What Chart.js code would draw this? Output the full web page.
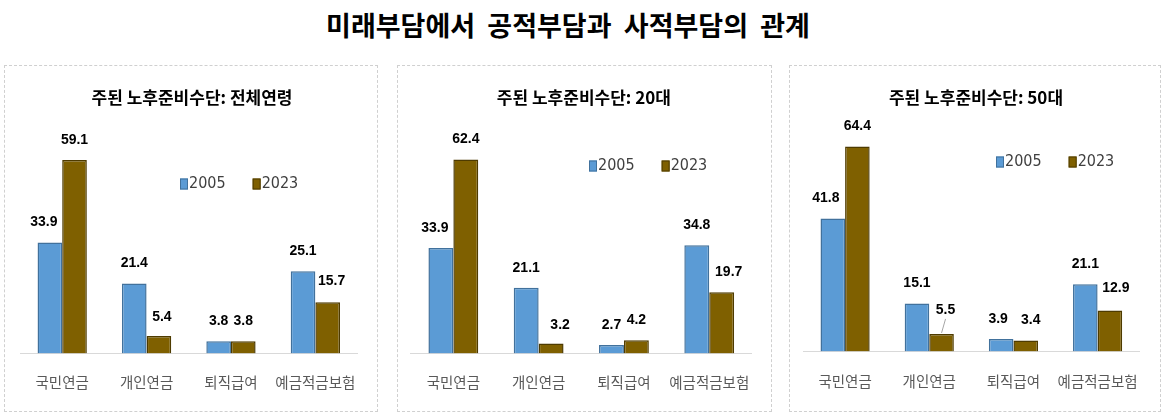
<!DOCTYPE html>
<html>
<head>
<meta charset="utf-8">
<script src="https://cdn.jsdelivr.net/npm/chart.js@4.4.0/dist/chart.umd.min.js"></script>
<style>
body { margin:0; background:#fff; width:1166px; height:415px; position:relative; overflow:hidden; }
#mainTitle { position:absolute; left:0; width:1136px; top:9px; line-height:32px; text-align:center;
  font-family:"Noto Sans CJK KR", sans-serif; font-weight:bold; font-size:27px; color:#000; }
.panel { position:absolute; top:65px; height:347px; border:1px dashed #d0d0d0; box-sizing:border-box; }
.panel div { position:absolute; left:0; top:0; right:0; bottom:0; }
</style>
</head>
<body>
<div id="mainTitle">미래부담에서&nbsp; 공적부담과&nbsp; 사적부담의&nbsp; 관계</div>
<div class="panel" style="left:4px; width:374px;"><div><canvas id="chartAll"></canvas></div></div>
<div class="panel" style="left:397px; width:375px;"><div><canvas id="chart20"></canvas></div></div>
<div class="panel" style="left:789px; width:372px;"><div><canvas id="chart50"></canvas></div></div>
<script>
const categories = ['국민연금', '개인연금', '퇴직급여', '예금적금보험'];
const years = ['2005', '2023'];

const allAges2005 = [33.9, 21.4, 3.8, 25.1];
const allAges2023 = [59.1, 5.4, 3.8, 15.7];
const twenties2005 = [33.9, 21.1, 2.7, 34.8];
const twenties2023 = [62.4, 3.2, 4.2, 19.7];
const fifties2005 = [41.8, 15.1, 3.9, 21.1];
const fifties2023 = [64.4, 5.5, 3.4, 12.9];

const panelTitles = ['주된 노후준비수단: 전체연령', '주된 노후준비수단: 20대', '주된 노후준비수단: 50대'];

// value labels above each bar
const valueLabels = {
    id: 'valueLabels',
    afterDatasetsDraw(chart, args, opts) {
        const ctx = chart.ctx;
        const shifts = opts.shifts || [];
        ctx.save();
        ctx.font = 'bold 14px "Liberation Sans", Arial, sans-serif';
        ctx.fillStyle = '#000';
        ctx.textAlign = 'center';
        ctx.textBaseline = 'middle';
        chart.data.datasets.forEach(function(ds, i){
            chart.getDatasetMeta(i).data.forEach(function(bar, j){
                let dx = 0, dy = -20, leader = false;
                shifts.forEach(function(s){
                    if(s.ds == i && s.idx == j){ dx = s.dx; dy = s.dy; leader = !!s.leader; }
                });
                if(leader){
                    ctx.strokeStyle = '#a6a6a6';
                    ctx.lineWidth = 1;
                    ctx.beginPath();
                    ctx.moveTo(bar.x, bar.y - 1);
                    ctx.lineTo(bar.x + dx, bar.y + dy + 9);
                    ctx.stroke();
                }
                ctx.fillText(ds.data[j].toFixed(1), bar.x + dx, bar.y + dy);
            });
        });
        ctx.restore();
    }
};

// legend drawn inside the plot
const insideLegend = {
    id: 'insideLegend',
    afterDraw(chart, args, opts) {
        const ctx = chart.ctx;
        let x = opts.x;
        const y = opts.y;
        ctx.save();
        ctx.font = '16px "Liberation Sans Narrow", "DejaVu Sans Condensed", sans-serif';
        ctx.textBaseline = 'middle';
        ctx.textAlign = 'left';
        chart.data.datasets.forEach(function(ds){
            ctx.fillStyle = ds.backgroundColor;
            ctx.fillRect(x, y - 5.5, 8, 11);
            ctx.strokeStyle = ds.borderColor;
            ctx.lineWidth = 1;
            ctx.strokeRect(x + 0.5, y - 5, 7, 10);
            ctx.fillStyle = '#404040';
            ctx.fillText(ds.label, x + 9, y);
            x += 9 + ctx.measureText(ds.label).width + 27;
        });
        ctx.restore();
    }
};

function createPanelChart(id, title, data2005, data2023, yMax, pad, tickPad, legendPos, shifts){
    new Chart(document.getElementById(id), {
        type: 'bar',
        data: {
            labels: categories,
            datasets: [{
                label: years[0],
                data: data2005,
                backgroundColor: '#5B9BD5',
                borderColor: '#41719C',
                borderWidth: 1.5
            }, {
                label: years[1],
                data: data2023,
                backgroundColor: '#7F6000',
                borderColor: '#4E3B00',
                borderWidth: 1.5
            }]
        },
        options: {
            responsive: true,
            maintainAspectRatio: false,
            animation: false,
            layout: { padding: pad },
            datasets: { bar: { categoryPercentage: 0.584, barPercentage: 1.0 } },
            plugins: {
                legend: { display: false },
                tooltip: { enabled: false },
                title: {
                    display: true,
                    text: title,
                    color: '#000',
                    font: { family: '"Noto Sans CJK KR", sans-serif', size: 17, weight: 'bold' },
                    padding: { top: 21.8, bottom: 10.1 }
                },
                insideLegend: legendPos,
                valueLabels: { shifts: shifts }
            },
            scales: {
                y: { display: false, min: 0, max: yMax },
                x: {
                    grid: { display: false, drawTicks: false },
                    border: { display: true, color: '#d9d9d9', width: 1 },
                    ticks: {
                        color: '#595959',
                        padding: tickPad,
                        maxRotation: 0,
                        minRotation: 0,
                        autoSkip: false,
                        font: { family: '"Noto Sans CJK KR", sans-serif', size: 14.5 }
                    }
                }
            }
        },
        plugins: [valueLabels, insideLegend]
    });
}

createPanelChart('chartAll', panelTitles[0], allAges2005, allAges2023, 71.8,
    { left: 15, right: 13, top: 0, bottom: 0 }, 20, { x: 175, y: 118 },
    [{ ds: 0, idx: 0, dx: -6, dy: -20 }, { ds: 1, idx: 1, dx: 3, dy: -19 },
     { ds: 1, idx: 3, dx: 4, dy: -21 }]);
createPanelChart('chart20', panelTitles[1], twenties2005, twenties2023, 75.7,
    { left: 12.7, right: 14, top: 0, bottom: 0.2 }, 20, { x: 191, y: 100 },
    [{ ds: 0, idx: 0, dx: -6, dy: -20 }, { ds: 1, idx: 1, dx: 9, dy: -18 },
     { ds: 1, idx: 3, dx: 7, dy: -20 }]);
createPanelChart('chart50', panelTitles[2], fifties2005, fifties2023, 73.3,
    { left: 13, right: 11, top: 0, bottom: 0.2 }, 21, { x: 206, y: 96 },
    [{ ds: 0, idx: 0, dx: -7, dy: -20 }, { ds: 1, idx: 1, dx: 4, dy: -24, leader: true },
     { ds: 0, idx: 2, dx: -3, dy: -20 }, { ds: 1, idx: 2, dx: 5, dy: -20 },
     { ds: 1, idx: 3, dx: 6, dy: -22 }]);
</script>
</body>
</html>
